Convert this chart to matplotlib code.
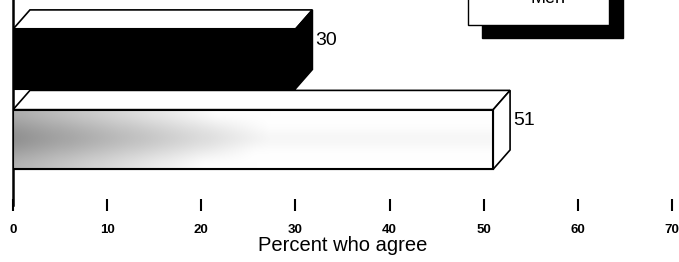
import matplotlib
matplotlib.use("Agg")
import matplotlib.pyplot as plt
import numpy as np
from matplotlib.patches import Polygon, Rectangle

plt.rcParams["font.family"] = ["Liberation Sans", "DejaVu Sans"]

# data: bottom bar first, top bar second
values = [51, 30]
positions = [0, 1]
face_colors = ["white", "black"]
xticks = [0, 10, 20, 30, 40, 50, 60, 70]
xlabel = "Percent who agree"
legend_label = "Men"

W, H = 679, 262
fig = plt.figure(figsize=(W / 100, H / 100), dpi=100)
ax = fig.add_axes([13 / W, 1 - 205 / H, 659 / W, 205 / H])

bar_h = 0.74
dx, dy = 1.8, 0.24  # fake depth of the 3d boxes

for pos, val, fc in zip(positions, values, face_colors):
    top = pos + bar_h / 2
    bot = pos - bar_h / 2
    ax.barh(pos, val, height=bar_h, color=fc, edgecolor="black", linewidth=1.5, zorder=3)
    if fc == "white":
        # grey shading on the front face, dark at the left
        gx = np.clip(np.linspace(0.6, 1.35, 200), 0, 1)[None, :]
        gy = np.array([0.08, 0.0, -0.05, 0.02, 0.1])[:, None]
        grad = np.clip(gx + gy, 0, 1)
        ax.imshow(grad, extent=(0, val, bot, top), cmap="gray", vmin=0, vmax=1,
                  aspect="auto", zorder=3.5, interpolation="bicubic")
        ax.add_patch(Rectangle((0, bot), val, bar_h, fc="none", ec="black", lw=1.5, zorder=4))
    ax.add_patch(Polygon([(0, top), (dx, top + dy), (val + dx, top + dy), (val, top)],
                         closed=True, fc="white", ec="black", lw=1.2, zorder=2))
    ax.add_patch(Polygon([(val, bot), (val, top), (val + dx, top + dy), (val + dx, bot + dy)],
                         closed=True, fc=fc, ec="black", lw=1.2, zorder=2))
    ax.text(val + dx + 0.35, pos + 0.235, str(val), va="center", ha="left", fontsize=14)

ax.set_xlim(0, 70)
ax.set_ylim(-0.814, 1.733)
ax.set_xticks(xticks)
ax.set_yticks([])
ax.tick_params(axis="x", direction="inout", length=9, width=1.5, pad=9, labelsize=9.5)
for lab in ax.get_xticklabels():
    lab.set_fontweight("bold")
for side in ["top", "right", "bottom"]:
    ax.spines[side].set_visible(False)
ax.spines["left"].set_linewidth(1.8)
ax.set_xlabel(xlabel, fontsize=14.5, labelpad=0)

# legend box with solid shadow, cut by the top of the image
bw, bh = 141 / W, 60 / H
fig.patches.append(Rectangle((482 / W, 1 - 38 / H), bw, bh, transform=fig.transFigure,
                             fc="black", ec="black", zorder=1))
fig.patches.append(Rectangle((468 / W, 1 - 25 / H), bw, bh, transform=fig.transFigure,
                             fc="white", ec="black", lw=1.0, zorder=2))
fig.text(548 / W, 1 - 3 / H, legend_label, ha="center", va="baseline", fontsize=13, zorder=3)

fig.savefig("out.png", dpi=100)
